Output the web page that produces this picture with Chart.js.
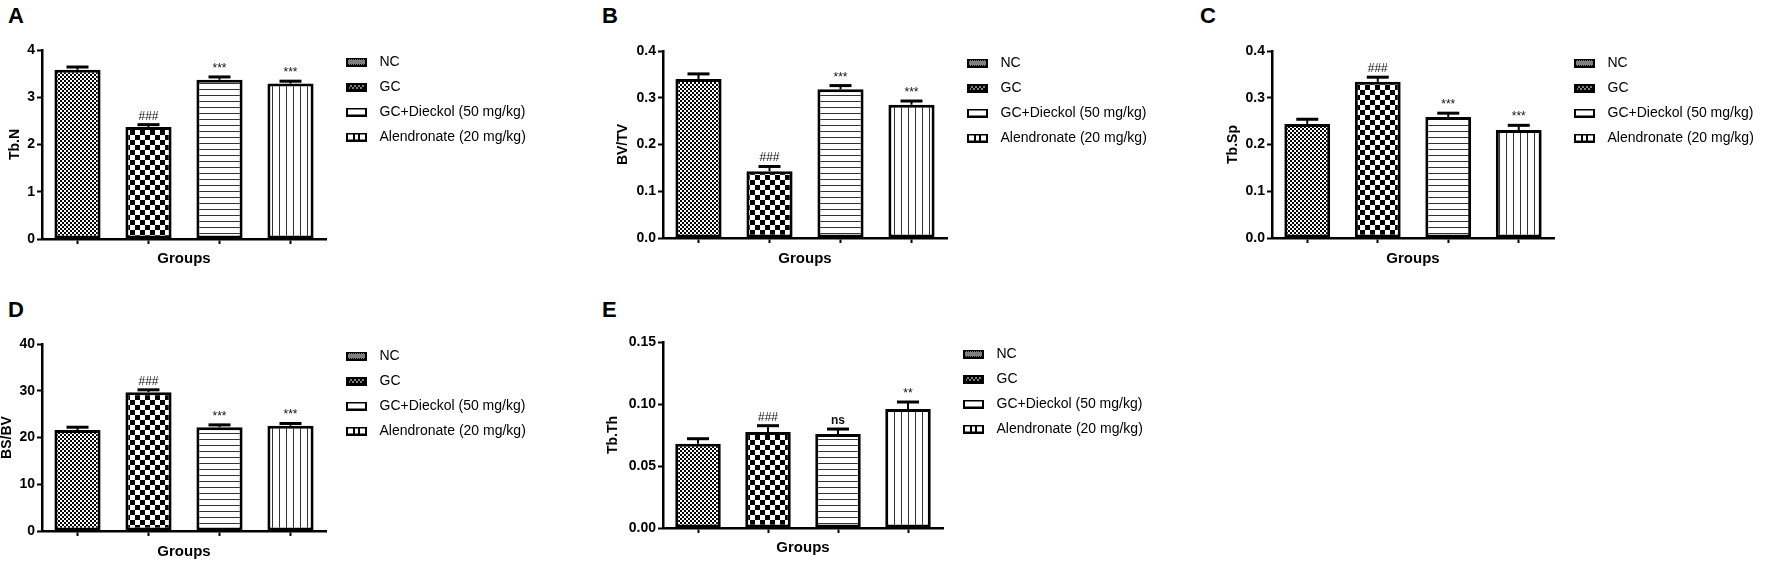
<!DOCTYPE html>
<html>
<head>
<meta charset="utf-8">
<script src="https://cdn.jsdelivr.net/npm/chart.js@4.4.1/dist/chart.umd.min.js"></script>
<style>
  body {
    margin: 0;
    width: 1772px;
    height: 562px;
    overflow: hidden;
    position: relative;
    background: #fff;
    font-family: "Liberation Sans", Arial, sans-serif;
  }
  canvas { position: absolute; }
  .letter {
    position: absolute;
    font-weight: bold;
    font-size: 22px;
    line-height: 22px;
    color: #000;
  }
</style>
</head>
<body>
<div class="letter" style="left:8px;top:5px">A</div>
<div class="letter" style="left:602px;top:5px">B</div>
<div class="letter" style="left:1200px;top:5px">C</div>
<div class="letter" style="left:8px;top:299px">D</div>
<div class="letter" style="left:602px;top:299px">E</div>

<canvas id="chartA" width="556" height="280" style="left:0px;top:0px"></canvas>
<canvas id="chartB" width="597" height="280" style="left:580px;top:0px"></canvas>
<canvas id="chartC" width="634" height="280" style="left:1150px;top:0px"></canvas>
<canvas id="chartD" width="556" height="272" style="left:0px;top:290px"></canvas>
<canvas id="chartE" width="593" height="272" style="left:580px;top:290px"></canvas>

<script>
const groups = ["NC", "GC", "GC+Dieckol (50 mg/kg)", "Alendronate (20 mg/kg)"];

// A
const tbN = [3.58, 2.37, 3.37, 3.29];
const tbNErr = [0.06, 0.05, 0.06, 0.05];
const tbNMarks = ["", "###", "***", "***"];
const tbNTicks = ["0", "1", "2", "3", "4"];

// B
const bvTv = [0.34, 0.143, 0.318, 0.285];
const bvTvErr = [0.011, 0.01, 0.008, 0.008];
const bvTvMarks = ["", "###", "***", "***"];
const bvTvTicks = ["0.0", "0.1", "0.2", "0.3", "0.4"];

// C
const tbSp = [0.244, 0.334, 0.259, 0.231];
const tbSpErr = [0.01, 0.01, 0.008, 0.01];
const tbSpMarks = ["", "###", "***", "***"];
const tbSpTicks = ["0.0", "0.1", "0.2", "0.3", "0.4"];

// D
const bsBv = [21.6, 29.7, 22.2, 22.5];
const bsBvErr = [0.6, 0.5, 0.5, 0.5];
const bsBvMarks = ["", "###", "***", "***"];
const bsBvTicks = ["0", "10", "20", "30", "40"];

// E
const tbTh = [0.068, 0.0775, 0.0758, 0.096];
const tbThErr = [0.004, 0.005, 0.004, 0.0056];
const tbThMarks = ["", "###", "ns", "**"];
const tbThTicks = ["0.00", "0.05", "0.10", "0.15"];

const FONT = '"Liberation Sans", Arial, sans-serif';
Chart.defaults.font.family = FONT;
Chart.defaults.color = "#000";

// small helper for the hatch tiles
function tile(w, h, draw) {
  const c = document.createElement("canvas");
  c.width = w;
  c.height = h;
  const g = c.getContext("2d");
  g.fillStyle = "#fff";
  g.fillRect(0, 0, w, h);
  g.fillStyle = "#000";
  draw(g);
  return c;
}

const barTiles = [
  tile(4, 4, (g) => { g.fillRect(0, 0, 2, 2); g.fillRect(2, 2, 2, 2); }),
  tile(10, 10, (g) => { g.fillRect(0, 0, 5, 5); g.fillRect(5, 5, 5, 5); }),
  tile(6, 6, (g) => { g.fillStyle = "#333"; g.fillRect(0, 5, 6, 1); }),
  tile(7, 7, (g) => { g.fillStyle = "#333"; g.fillRect(6, 0, 1, 7); }),
];

// legend swatches, 21x9 with a thick black frame
function swatch(kind) {
  return tile(21, 9, (g) => {
    g.fillRect(0, 0, 21, 9);
    g.fillStyle = "#fff";
    g.fillRect(2, 2, 17, 5);
    g.fillStyle = "#000";
    if (kind === 0) {
      for (let x = 2; x < 19; x++)
        for (let y = 2; y < 7; y++)
          if ((x + y) % 2 === 0) g.fillRect(x, y, 1, 1);
    } else if (kind === 1) {
      g.fillRect(2, 2, 17, 5);
      g.fillStyle = "#fff";
      for (let x = 3; x < 18; x++) {
        g.fillRect(x, (x % 4 < 2) ? 3 : 5, 1, 1);
      }
    } else if (kind === 3) {
      g.fillRect(7, 2, 2, 5);
      g.fillRect(12, 2, 2, 5);
    }
  });
}
const swatches = [0, 1, 2, 3].map(swatch);

const errorBars = {
  id: "errorBars",
  afterDatasetsDraw(chart) {
    const ds = chart.data.datasets[0];
    const meta = chart.getDatasetMeta(0);
    const yScale = chart.scales.y;
    const ctx = chart.ctx;
    ctx.save();
    ctx.strokeStyle = "#000";
    meta.data.forEach((bar, i) => {
      const top = yScale.getPixelForValue(ds.data[i] + ds.errors[i]);
      ctx.lineWidth = 2;
      ctx.beginPath();
      ctx.moveTo(bar.x, bar.y);
      ctx.lineTo(bar.x, top);
      ctx.stroke();
      ctx.lineWidth = 3;
      ctx.beginPath();
      ctx.moveTo(bar.x - 11, top);
      ctx.lineTo(bar.x + 11, top);
      ctx.stroke();
      const mark = ds.marks[i];
      if (mark) {
        ctx.font = (mark === "ns" ? "bold 12px " : "12px ") + FONT;
        ctx.fillStyle = "#111";
        ctx.textAlign = "center";
        ctx.textBaseline = "alphabetic";
        ctx.fillText(mark, bar.x, top - 5);
      }
    });
    ctx.restore();
  },
};

// put the legend just right of the plot, first row a bit below the top
const legendPlace = {
  id: "legendPlace",
  afterLayout(chart) {
    const lg = chart.legend;
    const ca = chart.chartArea;
    lg.left = ca.right + 3.5;
    lg.right = lg.left + lg.width;
    lg.top = ca.top - 6;
    lg.bottom = lg.top + ca.bottom - ca.top;
  },
};

function drawPanel(p) {
  const canvas = document.getElementById(p.id);
  const ctx = canvas.getContext("2d");
  const fills = barTiles.map((t) => ctx.createPattern(t, "repeat"));
  const tickVals = p.ticks.map(Number);

  new Chart(canvas, {
    type: "bar",
    data: {
      labels: groups,
      datasets: [
        {
          data: p.values,
          errors: p.errors,
          marks: p.marks,
          backgroundColor: fills,
          borderColor: "#000",
          borderWidth: 3,
          borderSkipped: false,
          barPercentage: 0.65,
          categoryPercentage: 1,
        },
      ],
    },
    options: {
      responsive: false,
      animation: false,
      layout: { padding: { top: p.top, right: p.canvasWidth - p.yWidth - p.plotWidth, bottom: 0, left: 0 } },
      scales: {
        x: {
          afterFit: (s) => { s.height = p.xHeight; },
          grid: {
            offset: false,
            drawOnChartArea: false,
            drawTicks: true,
            tickLength: 5,
            tickWidth: 2,
            tickColor: "#000",
          },
          border: { display: true, color: "#000", width: 2.5 },
          ticks: { display: false },
          title: {
            display: true,
            text: "Groups",
            color: "#000",
            font: { size: 15, weight: "bold", lineHeight: 1 },
            padding: { top: 0, bottom: p.xTitlePad },
          },
        },
        y: {
          min: 0,
          max: tickVals[tickVals.length - 1],
          afterFit: (s) => { s.width = p.yWidth; },
          grid: {
            drawOnChartArea: false,
            drawTicks: true,
            tickLength: 5,
            tickWidth: 2,
            tickColor: "#000",
          },
          border: { display: true, color: "#000", width: 2.5 },
          ticks: {
            stepSize: tickVals[1] - tickVals[0],
            padding: 2,
            color: "#000",
            font: { size: 14, weight: "bold" },
            callback: (v) => {
              const k = tickVals.findIndex((t) => Math.abs(t - v) < 1e-9);
              return k < 0 ? "" : p.ticks[k];
            },
          },
          title: {
            display: true,
            text: p.yTitle,
            color: "#000",
            font: { size: 14, weight: "bold", lineHeight: 1 },
            padding: { top: p.yTitlePad, bottom: 0 },
          },
        },
      },
      plugins: {
        tooltip: { enabled: false },
        legend: {
          display: true,
          position: "chartArea",
          align: "start",
          labels: {
            usePointStyle: true,
            pointStyleWidth: 32,
            padding: 11,
            color: "#1a1a1a",
            font: { size: 14 },
            generateLabels: () =>
              groups.map((g, i) => ({
                text: g,
                pointStyle: swatches[i],
                fillStyle: "#fff",
                strokeStyle: "#000",
                lineWidth: 0,
                hidden: false,
                datasetIndex: 0,
                index: i,
              })),
          },
        },
      },
    },
    plugins: [errorBars, legendPlace],
  });
}

const panels = [
  { id: "chartA", values: tbN, errors: tbNErr, marks: tbNMarks, ticks: tbNTicks, yTitle: "Tb.N",
    canvasWidth: 556, yWidth: 42, plotWidth: 284, top: 50, xHeight: 41, yTitlePad: 8, xTitlePad: 13.5 },
  { id: "chartB", values: bvTv, errors: bvTvErr, marks: bvTvMarks, ticks: bvTvTicks, yTitle: "BV/TV",
    canvasWidth: 597, yWidth: 83, plotWidth: 284, top: 51, xHeight: 42, yTitlePad: 36, xTitlePad: 13.5 },
  { id: "chartC", values: tbSp, errors: tbSpErr, marks: tbSpMarks, ticks: tbSpTicks, yTitle: "Tb.Sp",
    canvasWidth: 634, yWidth: 122, plotWidth: 282, top: 51, xHeight: 42, yTitlePad: 76, xTitlePad: 13.5 },
  { id: "chartD", values: bsBv, errors: bsBvErr, marks: bsBvMarks, ticks: bsBvTicks, yTitle: "BS/BV",
    canvasWidth: 556, yWidth: 42, plotWidth: 284, top: 54, xHeight: 31, yTitlePad: 0, xTitlePad: 2.5 },
  { id: "chartE", values: tbTh, errors: tbThErr, marks: tbThMarks, ticks: tbThTicks, yTitle: "Tb.Th",
    canvasWidth: 593, yWidth: 83, plotWidth: 280, top: 52, xHeight: 34, yTitlePad: 26, xTitlePad: 6.5 },
];

panels.forEach(drawPanel);
</script>
</body>
</html>
